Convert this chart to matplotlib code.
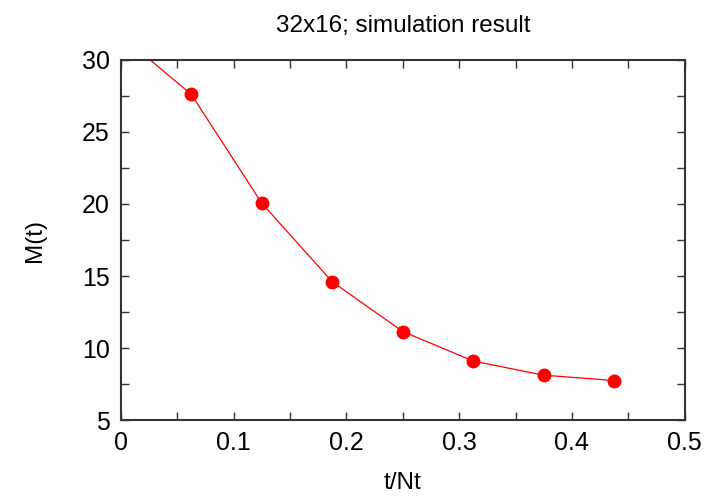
import matplotlib
matplotlib.use('Agg')
import matplotlib.pyplot as plt
from matplotlib.ticker import MultipleLocator

# magnetization vs normalised time, 32x16 lattice
t_nt = [0.0, 0.0625, 0.125, 0.1875, 0.25, 0.3125, 0.375, 0.4375]
m_t = [31.7, 27.6, 20.05, 14.6, 11.15, 9.1, 8.12, 7.75]
x_ticks = [0, 0.1, 0.2, 0.3, 0.4, 0.5]
x_labels = ['0', '0.1', '0.2', '0.3', '0.4', '0.5']

plt.rcParams['font.family'] = ['Liberation Sans', 'DejaVu Sans']

fig = plt.figure(figsize=(7.11, 4.99), dpi=100)
ax = fig.add_axes([0.170, 0.158, 0.793, 0.722])

ax.plot(t_nt, m_t, color='red', linewidth=0.9)
ax.plot(t_nt[1:], m_t[1:], 'o', color='red', markersize=9)

ax.set_xlim(0, 0.5)
ax.set_ylim(5, 30)
ax.set_xticks(x_ticks)
ax.set_xticklabels(x_labels)
ax.xaxis.set_minor_locator(MultipleLocator(0.05))
ax.yaxis.set_major_locator(MultipleLocator(5))
ax.yaxis.set_minor_locator(MultipleLocator(2.5))

for which in ('major', 'minor'):
    ax.tick_params(which=which, direction='in', length=6, width=1,
                   top=True, right=True, color='#333333')
ax.tick_params(labelsize=18, pad=8)
for s in ax.spines.values():
    s.set_linewidth(1.5)
    s.set_color('#333333')

ax.set_title('32x16; simulation result', fontsize=17.5, pad=20)
ax.set_xlabel('t/Nt', fontsize=17.5, labelpad=12)
ax.set_ylabel('M(t)', fontsize=17.5, labelpad=26)

plt.savefig('out.png', dpi=100)
